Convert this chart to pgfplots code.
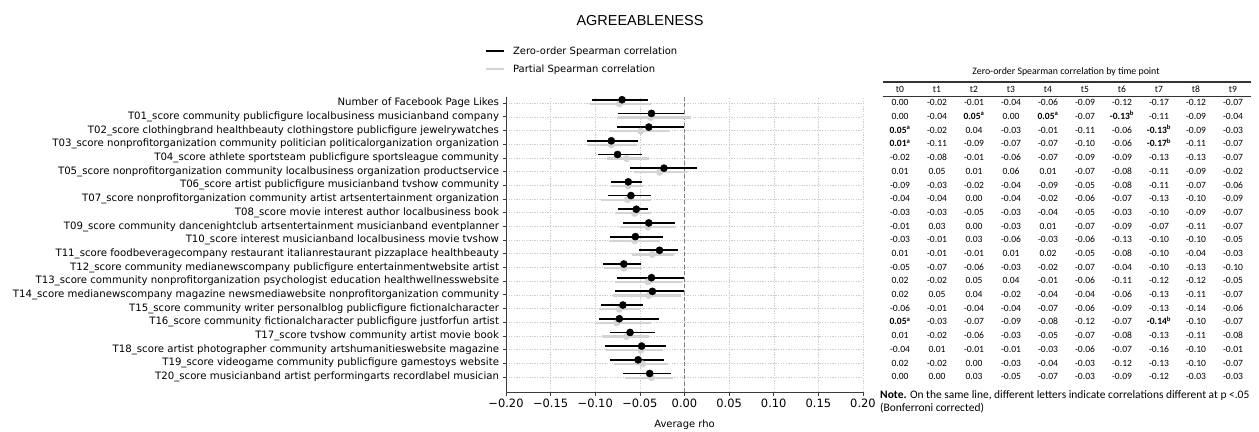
\documentclass[border=0pt]{standalone}
\usepackage{fontspec}
\setmainfont{DejaVu Sans}
\newfontfamily\titlefont{Liberation Sans}
\newfontfamily\tabfont{Carlito}
\usepackage{pgfplots}
\pgfplotsset{compat=1.18}
\usepackage{pgfplotstable}

\definecolor{zcol}{RGB}{0,0,0}
\definecolor{pcol}{RGB}{212,212,212}
\definecolor{gridc}{RGB}{205,205,205}
\definecolor{spine}{RGB}{60,60,60}

% zero-order: y, rho, distance to lower / upper CI end
\pgfplotstableread{
y      r       em     ep
20.25  -0.070  0.034  0.029
19.25  -0.037  0.038  0.036
18.25  -0.040  0.036  0.039
17.25  -0.082  0.027  0.030
16.25  -0.075  0.022  0.027
15.25  -0.023  0.038  0.037
14.25  -0.063  0.019  0.015
13.25  -0.060  0.026  0.023
12.25  -0.054  0.020  0.013
11.25  -0.040  0.029  0.029
10.25  -0.055  0.029  0.031
9.25   -0.028  0.023  0.021
8.25   -0.068  0.023  0.019
7.25   -0.037  0.039  0.036
6.25   -0.036  0.042  0.035
5.25   -0.069  0.025  0.023
4.25   -0.073  0.023  0.044
3.25   -0.061  0.023  0.028
2.25   -0.048  0.041  0.027
1.25   -0.052  0.032  0.029
0.25   -0.039  0.030  0.024
}\zerotab

% partial
\pgfplotstableread{
y      r       em     ep
19.95  -0.073  0.033  0.035
18.95  -0.038  0.038  0.045
17.95  -0.049  0.036  0.033
16.95  -0.082  0.026  0.029
15.95  -0.065  0.022  0.025
14.95  -0.028  0.029  0.031
13.95  -0.063  0.019  0.017
12.95  -0.064  0.029  0.026
11.95  -0.056  0.022  0.018
10.95  -0.041  0.031  0.031
9.95   -0.056  0.029  0.029
8.95   -0.036  0.023  0.024
7.95   -0.068  0.022  0.020
6.95   -0.041  0.037  0.039
5.95   -0.040  0.040  0.036
4.95   -0.073  0.023  0.023
3.95   -0.076  0.023  0.039
2.95   -0.065  0.027  0.025
1.95   -0.049  0.039  0.025
0.95   -0.047  0.032  0.028
-0.05  -0.037  0.030  0.024
}\partab

\begin{document}
\begin{tikzpicture}
\path[use as bounding box] (0,0) rectangle (1259bp,432bp);

\begin{axis}[
  at={(506bp,40bp)}, anchor=south west,
  width=357bp, height=295bp, scale only axis,
  xmin=-0.2, xmax=0.2, ymin=-1.1, ymax=20.45,
  axis x line*=bottom, axis y line*=left,
  axis line style={-, spine, line width=0.9pt},
  xtick={-0.2,-0.15,-0.1,-0.05,0,0.05,0.1,0.15,0.2},
  xticklabels={−0.20,−0.15,−0.10,−0.05,0.00,0.05,0.10,0.15,0.20},
  ytick={0,...,20},
  yticklabels={
    T20\_score musicianband artist performingarts recordlabel musician,
    T19\_score videogame community publicfigure gamestoys website,
    T18\_score artist photographer community artshumanitieswebsite magazine,
    T17\_score tvshow community artist movie book,
    T16\_score community fictionalcharacter publicfigure justforfun artist,
    T15\_score community writer personalblog publicfigure fictionalcharacter,
    T14\_score medianewscompany magazine newsmediawebsite nonprofitorganization community,
    T13\_score community nonprofitorganization psychologist education healthwellnesswebsite,
    T12\_score community medianewscompany publicfigure entertainmentwebsite artist,
    T11\_score foodbeveragecompany restaurant italianrestaurant pizzaplace healthbeauty,
    T10\_score interest musicianband localbusiness movie tvshow,
    T09\_score community dancenightclub artsentertainment musicianband eventplanner,
    T08\_score movie interest author localbusiness book,
    T07\_score nonprofitorganization community artist artsentertainment organization,
    T06\_score artist publicfigure musicianband tvshow community,
    T05\_score nonprofitorganization community localbusiness organization productservice,
    T04\_score athlete sportsteam publicfigure sportsleague community,
    T03\_score nonprofitorganization community politician politicalorganization organization,
    T02\_score clothingbrand healthbeauty clothingstore publicfigure jewelrywatches,
    T01\_score community publicfigure localbusiness musicianband company,
    Number of Facebook Page Likes},
  tick align=outside, major tick length=3.5bp,
  tick style={spine, line width=0.7pt},
  grid=major,
  grid style={gridc, dash pattern=on 1.3pt off 1.3pt, line width=0.5pt},
  xticklabel style={font=\fontsize{11.5}{13}\selectfont},
  yticklabel style={font=\fontsize{10.2}{12}\selectfont},
  xlabel={Average rho},
  xlabel style={font=\fontsize{10}{12}\selectfont, yshift=-5bp},
  clip=false,
  legend image code/.code={\draw[#1] (0bp,0bp) -- (18bp,0bp);},
  legend style={at={(-0.068,1.065)}, anchor=south west, draw=none, fill=none,
    font=\fontsize{10}{12}\selectfont, row sep=5bp, column sep=6bp},
  legend cell align=left,
]
\addlegendimage{zcol, line width=2bp}
\addlegendentry{Zero-order Spearman correlation}
\addlegendimage{pcol, line width=2.2bp}
\addlegendentry{Partial Spearman correlation}

\addplot[gray, dash pattern=on 4pt off 2.5pt, line width=0.9pt, forget plot]
  coordinates {(0,-1.1) (0,20.45)};

\addplot[only marks, mark=*, mark size=3.3bp, pcol, forget plot,
  error bars/.cd, x dir=both, x explicit, error mark=none,
  error bar style={line width=2.2bp, pcol}]
  table[x=r, y=y, x error minus=em, x error plus=ep]{\partab};

\addplot[only marks, mark=*, mark size=3.6bp, zcol, forget plot,
  error bars/.cd, x dir=both, x explicit, error mark=none,
  error bar style={line width=1.8bp, zcol}]
  table[x=r, y=y, x error minus=em, x error plus=ep]{\zerotab};
\end{axis}

\node[font=\titlefont\fontsize{14.5}{17}\selectfont] at (640bp,411bp) {AGREEABLENESS};

% table of zero-order correlations by time point
\node[font=\tabfont\fontsize{9.9}{11}\selectfont] at (1066bp,360bp)
  {Zero-order Spearman correlation by time point};
\draw[line width=1.1bp, black!80] (883bp,350bp) -- (1251bp,350bp);
\draw[line width=0.5bp, black!80] (883bp,335.5bp) -- (1251bp,335.5bp);
\foreach \h [count=\j from 0] in {t0,t1,t2,t3,t4,t5,t6,t7,t8,t9}
  \node[font=\tabfont\fontsize{9.6}{11}\selectfont, anchor=mid]
    at ({900bp+37bp*\j},342.5bp) {\h};

\foreach \row [count=\i from 0] in {
 {0.00,-0.02,-0.01,-0.04,-0.06,-0.09,-0.12,-0.17,-0.12,-0.07},
 {0.00,-0.04,{\textbf{0.05\textsuperscript{a}}},0.00,{\textbf{0.05\textsuperscript{a}}},-0.07,{\textbf{-0.13\textsuperscript{b}}},-0.11,-0.09,-0.04},
 {{\textbf{0.05\textsuperscript{a}}},-0.02,0.04,-0.03,-0.01,-0.11,-0.06,{\textbf{-0.13\textsuperscript{b}}},-0.09,-0.03},
 {{\textbf{0.01\textsuperscript{a}}},-0.11,-0.09,-0.07,-0.07,-0.10,-0.06,{\textbf{-0.17\textsuperscript{b}}},-0.11,-0.07},
 {-0.02,-0.08,-0.01,-0.06,-0.07,-0.09,-0.09,-0.13,-0.13,-0.07},
 {0.01,0.05,0.01,0.06,0.01,-0.07,-0.08,-0.11,-0.09,-0.02},
 {-0.09,-0.03,-0.02,-0.04,-0.09,-0.05,-0.08,-0.11,-0.07,-0.06},
 {-0.04,-0.04,0.00,-0.04,-0.02,-0.06,-0.07,-0.13,-0.10,-0.09},
 {-0.03,-0.03,-0.05,-0.03,-0.04,-0.05,-0.03,-0.10,-0.09,-0.07},
 {-0.01,0.03,0.00,-0.03,0.01,-0.07,-0.09,-0.07,-0.11,-0.07},
 {-0.03,-0.01,0.03,-0.06,-0.03,-0.06,-0.13,-0.10,-0.10,-0.05},
 {0.01,-0.01,-0.01,0.01,0.02,-0.05,-0.08,-0.10,-0.04,-0.03},
 {-0.05,-0.07,-0.06,-0.03,-0.02,-0.07,-0.04,-0.10,-0.13,-0.10},
 {0.02,-0.02,0.05,0.04,-0.01,-0.06,-0.11,-0.12,-0.12,-0.05},
 {0.02,0.05,0.04,-0.02,-0.04,-0.04,-0.06,-0.13,-0.11,-0.07},
 {-0.06,-0.01,-0.04,-0.04,-0.07,-0.06,-0.09,-0.13,-0.14,-0.06},
 {{\textbf{0.05\textsuperscript{a}}},-0.03,-0.07,-0.09,-0.08,-0.12,-0.07,{\textbf{-0.14\textsuperscript{b}}},-0.10,-0.07},
 {0.01,-0.02,-0.06,-0.03,-0.05,-0.07,-0.08,-0.13,-0.11,-0.08},
 {-0.04,0.01,-0.01,-0.01,-0.03,-0.06,-0.07,-0.16,-0.10,-0.01},
 {0.02,-0.02,0.00,-0.03,-0.04,-0.03,-0.12,-0.13,-0.10,-0.07},
 {0.00,0.00,0.03,-0.05,-0.07,-0.03,-0.09,-0.12,-0.03,-0.03}}{
  \foreach \v [count=\j from 0] in \row {
    \node[font=\tabfont\fontsize{9.6}{11}\selectfont, anchor=mid]
      at ({900bp+37bp*\j},{328.8bp-13.689bp*\i}) {\v};
  }
}

\node[font=\tabfont\fontsize{11.5}{13}\selectfont, anchor=north west, align=left,
  inner sep=0pt] at (880bp,42bp)
  {\textbf{Note.} On the same line, different letters indicate correlations different at p <.05\\
   (Bonferroni corrected)};
\end{tikzpicture}
\end{document}
